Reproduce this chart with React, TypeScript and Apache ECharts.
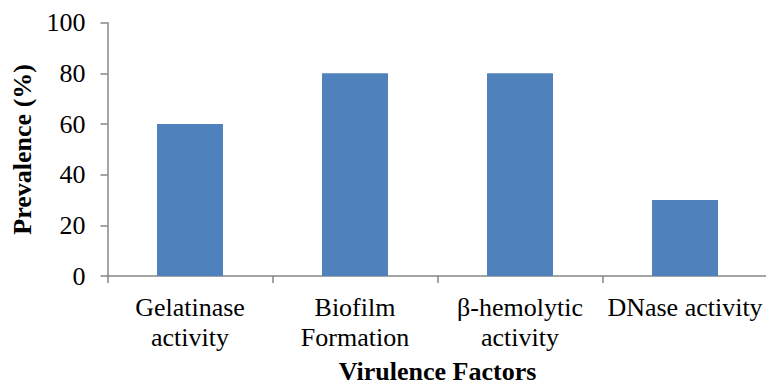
import React, { useEffect, useRef } from "react";
import * as echarts from "echarts";

const categories = [
  "Gelatinase\nactivity",
  "Biofilm\nFormation",
  "β-hemolytic\nactivity",
  "DNase activity",
];
const prevalence = [60, 80, 80, 30];
const yTicks = { min: 0, max: 100, interval: 20 };

const FONT = "Liberation Serif, Times New Roman, serif";
const AXIS_COLOR = "#868686";

export default function App() {
  const ref = useRef<HTMLDivElement>(null);

  useEffect(() => {
    if (!ref.current) return;
    const chart = echarts.init(ref.current, null, { renderer: "svg" });
    chart.setOption({
      animation: false,
      textStyle: { fontFamily: FONT, color: "#000" },
      grid: {
        left: 107.5,
        right: -1.5,
        top: 22.7,
        bottom: 111,
        containLabel: false,
        outerBoundsMode: "none",
      },
      xAxis: {
        type: "category",
        data: categories,
        name: "Virulence Factors",
        nameLocation: "middle",
        nameGap: 85,
        nameTextStyle: {
          fontFamily: FONT,
          fontSize: 26,
          fontWeight: "bold",
          color: "#000",
          lineHeight: 20,
        },
        axisLine: { show: true, lineStyle: { color: AXIS_COLOR, width: 1.5 } },
        axisTick: { show: true, alignWithLabel: false, length: 7, lineStyle: { color: AXIS_COLOR, width: 1.5 } },
        axisLabel: {
          fontFamily: FONT,
          fontSize: 26,
          lineHeight: 30,
          color: "#000",
          margin: 16,
          interval: 0,
        },
        splitLine: { show: false },
      },
      yAxis: {
        type: "value",
        min: yTicks.min,
        max: yTicks.max,
        interval: yTicks.interval,
        name: "Prevalence (%)",
        nameLocation: "middle",
        nameGap: 70,
        nameTextStyle: { fontFamily: FONT, fontSize: 26, fontWeight: "bold", color: "#000" },
        axisLine: { show: true, lineStyle: { color: AXIS_COLOR, width: 1.5 } },
        axisTick: { show: true, length: 7, lineStyle: { color: AXIS_COLOR, width: 1.5 } },
        axisLabel: { fontFamily: FONT, fontSize: 26, color: "#000", margin: 22 },
        splitLine: { show: false },
      },
      series: [
        {
          type: "bar",
          data: prevalence,
          barWidth: "40%",
          itemStyle: { color: "#4F81BD" },
        },
      ],
    });
    return () => chart.dispose();
  }, []);

  return <div ref={ref} style={{ width: 766, height: 387, position: "absolute", left: 0, top: 0 }} />;
}
